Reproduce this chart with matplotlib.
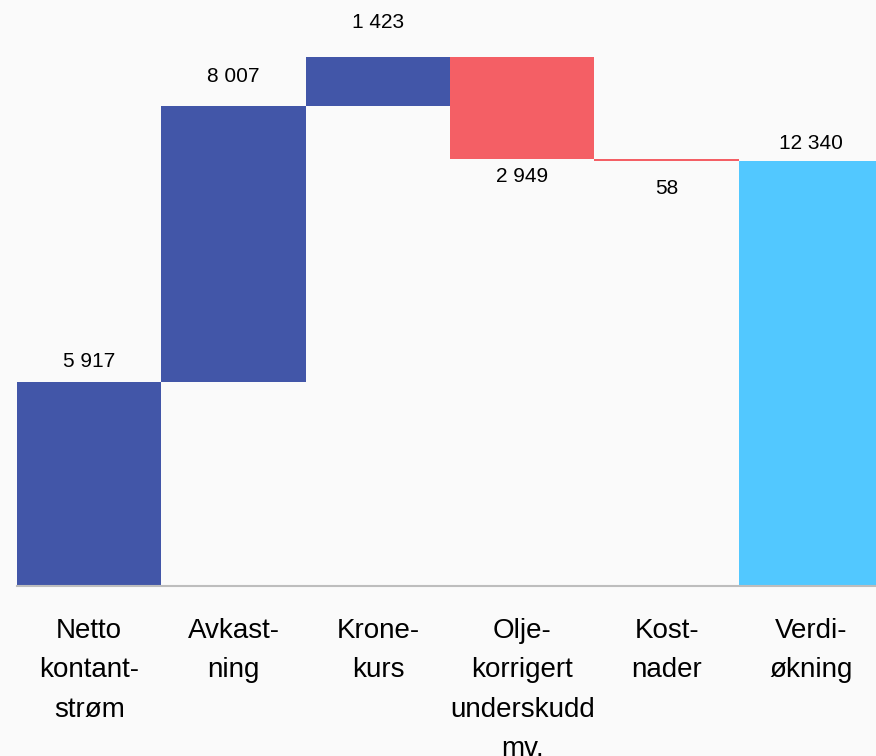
import matplotlib
matplotlib.use("Agg")
import matplotlib.pyplot as plt
from matplotlib.transforms import blended_transform_factory, offset_copy

# ── data ──────────────────────────────────────────────────────────────────────
categories = ["Netto\nkontant-\nstrøm", "Avkast-\nning", "Krone-\nkurs",
              "Olje-\nkorrigert\nunderskudd\nmv.", "Kost-\nnader", "Verdi-\nøkning"]
changes = [5917, 8007, 1423, -2949, -58, 12340]
labels = ["5 917", "8 007", "1 423", "2 949", "58", "12 340"]
is_total = [False, False, False, False, False, True]

# ── colours ───────────────────────────────────────────────────────────────────
BG = "#fafafa"
POS = "#4256a8"
NEG = "#f45f65"
TOT = "#52c8ff"
AXIS = "#bdbdbd"

W, H = 876, 756
fig = plt.figure(figsize=(W / 100, H / 100), dpi=100, facecolor=BG)
ax = fig.add_axes([17 / W, (H - 586) / H, (W - 17) / W, 586 / H])
ax.set_facecolor(BG)

# waterfall bottoms/heights
bottoms, heights, colors = [], [], []
running = 0
for ch, tot in zip(changes, is_total):
    if tot:
        bottoms.append(0)
        heights.append(ch)
        colors.append(TOT)
    else:
        bottoms.append(running if ch >= 0 else running + ch)
        heights.append(abs(ch))
        colors.append(POS if ch >= 0 else NEG)
        running += ch

x = list(range(len(changes)))
ax.bar(x, heights, bottom=bottoms, width=1.0, color=colors, linewidth=0)

ax.set_xlim(-0.5, 5.45)
ax.set_ylim(0, 17000)
for s in ["top", "right", "left"]:
    ax.spines[s].set_visible(False)
ax.spines["bottom"].set_color(AXIS)
ax.spines["bottom"].set_linewidth(1.5)
ax.set_xticks([])
ax.set_yticks([])

# value labels (pixel offset from bar end)
offsets = [21, 30, 34, -18, -28, 17]
for xi, b, h, ch, lab, off in zip(x, bottoms, heights, changes, labels, offsets):
    y = b + h if (ch >= 0) else b
    tr = offset_copy(ax.transData, fig=fig, x=0, y=off * 0.72, units="points")
    ax.text(xi, y, lab, transform=tr, ha="center", va="center",
            fontsize=15, family=["Liberation Sans", "DejaVu Sans"], color="#000000")

# category labels
tr = blended_transform_factory(ax.transData, ax.transAxes)
for xi, cat in zip(x, categories):
    ax.text(xi, -0.055, cat, transform=tr, ha="center", va="top",
            fontsize=20, linespacing=1.66, color="#000000",
            family=["Liberation Sans", "DejaVu Sans"])

fig.savefig("out.png", dpi=100, facecolor=BG)
